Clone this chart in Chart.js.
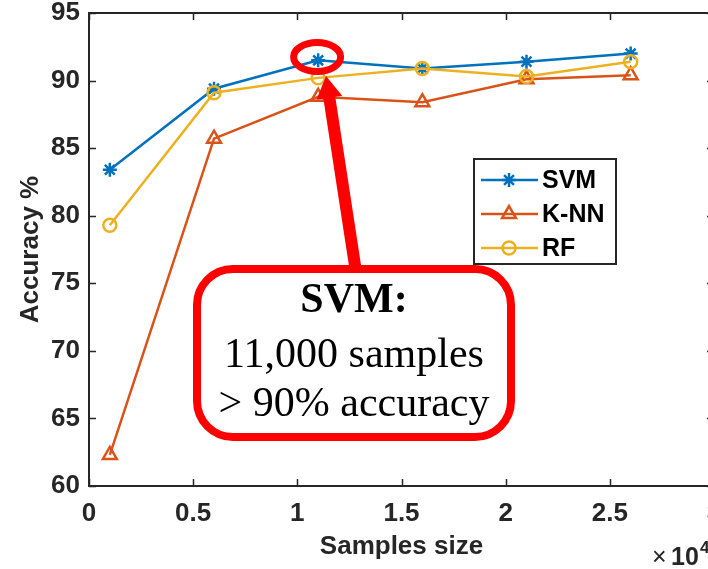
<!DOCTYPE html>
<html>
<head>
<meta charset="utf-8">
<script src="https://cdn.jsdelivr.net/npm/chart.js@4"></script>
<style>
  html, body { margin: 0; padding: 0; overflow: hidden; background: #fff; }
  #wrap { position: absolute; left: 0; top: 0; width: 730px; height: 569px; }
</style>
</head>
<body>
<div id="wrap"><canvas id="myChart" width="730" height="569"></canvas></div>
<script>
// samples size (x 10^4)
const sampleSize = [0.1, 0.6, 1.1, 1.6, 2.1, 2.6];
// accuracy %
const svmAcc = [83.4, 89.4, 91.5, 90.9, 91.4, 92.0];
const knnAcc = [62.3, 85.7, 88.8, 88.4, 90.1, 90.4];
const rfAcc = [79.3, 89.1, 90.2, 90.9, 90.3, 91.4];

const xTicks = [0, 0.5, 1, 1.5, 2, 2.5, 3];
const yTicks = [60, 65, 70, 75, 80, 85, 90, 95];

const noteTitle = 'SVM:';
const noteLines = ['11,000 samples', '> 90% accuracy'];

const AXIS = '#262626';
const SANS = '"Liberation Sans", Arial, sans-serif';
const SERIF = '"Liberation Serif", "Times New Roman", serif';

const toPoints = (ys) => ys.map((y, i) => ({ x: sampleSize[i], y: y }));

// inside ticks, box, legend and the red note (MATLAB look)
const figurePlugin = {
  id: 'figureExtras',
  afterDraw(chart) {
    const ctx = chart.ctx;
    const a = chart.chartArea;
    const sx = chart.scales.x;
    const sy = chart.scales.y;
    ctx.save();

    // ticks
    ctx.strokeStyle = AXIS;
    ctx.lineWidth = 1.5;
    ctx.beginPath();
    xTicks.forEach((v) => {
      const p = Math.round(sx.getPixelForValue(v)) + 0.5;
      ctx.moveTo(p, a.bottom); ctx.lineTo(p, a.bottom - 7);
      ctx.moveTo(p, a.top); ctx.lineTo(p, a.top + 7);
    });
    yTicks.forEach((v) => {
      const p = Math.round(sy.getPixelForValue(v)) + 0.5;
      ctx.moveTo(a.left, p); ctx.lineTo(a.left + 7, p);
      ctx.moveTo(a.right, p); ctx.lineTo(a.right - 7, p);
    });
    ctx.stroke();
    ctx.lineWidth = 2;
    ctx.strokeRect(a.left, a.top, a.right - a.left, a.bottom - a.top);

    // x10^4
    ctx.fillStyle = AXIS;
    ctx.textAlign = 'left';
    ctx.textBaseline = 'alphabetic';
    ctx.font = '25px ' + SANS;
    ctx.fillText('\u00d7', 652, 565);
    ctx.font = 'bold 25px ' + SANS;
    ctx.fillText('10', 671, 565);
    ctx.font = 'bold 17px ' + SANS;
    ctx.fillText('4', 700, 553);

    // legend
    const lx = 474, ly = 159, lw = 142, lh = 105;
    ctx.fillStyle = '#fff';
    ctx.fillRect(lx, ly, lw, lh);
    ctx.strokeStyle = AXIS;
    ctx.lineWidth = 2;
    ctx.strokeRect(lx, ly, lw, lh);
    chart.data.datasets.forEach((ds, i) => {
      const y = ly + 21 + i * 34;
      ctx.strokeStyle = ds.borderColor;
      ctx.lineWidth = 2.5;
      ctx.beginPath();
      ctx.moveTo(lx + 7, y); ctx.lineTo(lx + 64, y);
      ctx.stroke();
      ctx.fillStyle = ds.pointBackgroundColor;
      ctx.lineWidth = ds.pointBorderWidth;
      Chart.helpers.drawPoint(ctx, {
        pointStyle: ds.pointStyle, radius: ds.pointRadius,
        borderWidth: ds.pointBorderWidth, rotation: 0
      }, lx + 35, y);
      ctx.fillStyle = '#000';
      ctx.font = 'bold 25px ' + SANS;
      ctx.textBaseline = 'middle';
      ctx.fillText(ds.label, lx + 68, y + 1);
    });

    // red ellipse round the SVM point at 1.1
    ctx.strokeStyle = '#ff0000';
    ctx.lineWidth = 7;
    ctx.beginPath();
    ctx.ellipse(sx.getPixelForValue(1.095), sy.getPixelForValue(91.75), 23.5, 14.5, 0, 0, Math.PI * 2);
    ctx.stroke();

    // arrow
    const tail = { x: 356, y: 272 };
    const tip = { x: 326, y: 76 };
    const dx = tip.x - tail.x, dy = tip.y - tail.y;
    const len = Math.sqrt(dx * dx + dy * dy);
    const ux = dx / len, uy = dy / len;
    const bx = tip.x - ux * 22, by = tip.y - uy * 22;
    ctx.lineWidth = 12;
    ctx.beginPath();
    ctx.moveTo(tail.x, tail.y); ctx.lineTo(bx + ux * 2, by + uy * 2);
    ctx.stroke();
    ctx.fillStyle = '#ff0000';
    ctx.beginPath();
    ctx.moveTo(tip.x, tip.y);
    ctx.lineTo(bx - uy * 13, by + ux * 13);
    ctx.lineTo(bx + uy * 13, by - ux * 13);
    ctx.closePath();
    ctx.fill();

    // rounded note box
    const bx0 = 197, by0 = 269, bw = 314, bh = 168, r = 36;
    ctx.beginPath();
    ctx.moveTo(bx0 + r, by0);
    ctx.arcTo(bx0 + bw, by0, bx0 + bw, by0 + bh, r);
    ctx.arcTo(bx0 + bw, by0 + bh, bx0, by0 + bh, r);
    ctx.arcTo(bx0, by0 + bh, bx0, by0, r);
    ctx.arcTo(bx0, by0, bx0 + bw, by0, r);
    ctx.closePath();
    ctx.fillStyle = '#fff';
    ctx.fill();
    ctx.lineWidth = 8;
    ctx.stroke();

    ctx.fillStyle = '#000';
    ctx.textAlign = 'center';
    ctx.textBaseline = 'alphabetic';
    ctx.font = 'bold 42px ' + SERIF;
    ctx.fillText(noteTitle, 354, 312);
    ctx.font = '42px ' + SERIF;
    ctx.fillText(noteLines[0], 354, 367);
    ctx.fillText(noteLines[1], 354, 416);

    ctx.restore();
  }
};

let ctx = document.getElementById('myChart').getContext('2d');
let chart = new Chart(ctx, {
  type: 'line',
  data: {
    datasets: [
      {
        label: 'SVM', data: toPoints(svmAcc), order: 2,
        borderColor: '#0072BD', pointBackgroundColor: '#0072BD', pointBorderColor: '#0072BD',
        pointStyle: 'star', pointRadius: 7, pointBorderWidth: 2.5
      },
      {
        label: 'K-NN', data: toPoints(knnAcc), order: 1,
        borderColor: '#D95319', pointBackgroundColor: 'rgba(0,0,0,0)', pointBorderColor: '#D95319',
        pointStyle: 'triangle', pointRadius: 8, pointBorderWidth: 2.5
      },
      {
        label: 'RF', data: toPoints(rfAcc), order: 0,
        borderColor: '#EDB120', pointBackgroundColor: 'rgba(0,0,0,0)', pointBorderColor: '#EDB120',
        pointStyle: 'circle', pointRadius: 6.5, pointBorderWidth: 2.5
      }
    ]
  },
  options: {
    responsive: false,
    animation: false,
    datasets: { line: { borderWidth: 2.5, tension: 0, fill: false } },
    layout: { padding: { left: 0, top: 13, right: 16, bottom: 0 } },
    plugins: { legend: { display: false }, tooltip: { enabled: false } },
    scales: {
      x: {
        type: 'linear', min: 0, max: 3,
        grid: { display: false, drawTicks: false },
        border: { display: false },
        ticks: { color: AXIS, font: { family: SANS, size: 26, weight: 'bold' }, padding: 12, maxRotation: 0,
          callback: (v) => String(v) },
        afterBuildTicks: (s) => { s.ticks = xTicks.map((v) => ({ value: v })); },
        afterFit: (s) => { s.height = 83; s.paddingLeft = 0; s.paddingRight = 0; },
        title: { display: true, text: 'Samples size', color: AXIS,
          font: { family: SANS, size: 26, weight: 'bold' }, padding: { top: 0, bottom: 7 } }
      },
      y: {
        min: 60, max: 95,
        grid: { display: false, drawTicks: false },
        border: { display: false },
        ticks: { color: AXIS, font: { family: SANS, size: 26, weight: 'bold' }, padding: 9,
          callback: (v) => String(v) },
        afterBuildTicks: (s) => { s.ticks = yTicks.map((v) => ({ value: v })); },
        afterFit: (s) => { s.width = 89; s.paddingTop = 0; s.paddingBottom = 0; },
        title: { display: true, text: 'Accuracy %', color: AXIS,
          font: { family: SANS, size: 26, weight: 'bold' }, padding: { top: 15, bottom: 0 } }
      }
    }
  },
  plugins: [figurePlugin]
});
</script>
</body>
</html>
